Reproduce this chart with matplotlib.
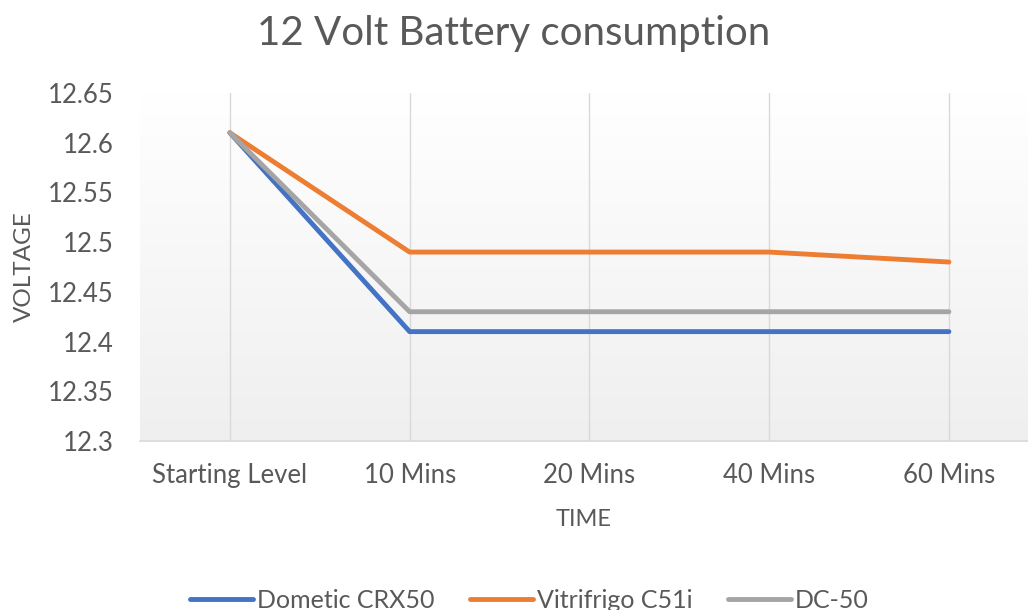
import matplotlib
matplotlib.use("Agg")
from matplotlib import pyplot as plt
from matplotlib.colors import LinearSegmentedColormap
import numpy

categories = ["Starting Level", "10 Mins", "20 Mins", "40 Mins", "60 Mins"]
dometic_crx50 = [12.61, 12.41, 12.41, 12.41, 12.41]
vitrifrigo_c51i = [12.61, 12.49, 12.49, 12.49, 12.48]
dc_50 = [12.61, 12.43, 12.43, 12.43, 12.43]
y_ticks = [12.3, 12.35, 12.4, 12.45, 12.5, 12.55, 12.6, 12.65]
y_tick_labels = ["12.3", "12.35", "12.4", "12.45", "12.5", "12.55", "12.6", "12.65"]

plt.rcParams['font.family'] = ['Lato', 'DejaVu Sans']
TEXT = "#595959"
GRID = "#d9d9d9"

fig = plt.figure(figsize=(10.28, 6.10), dpi=100)
ax = fig.add_axes([140 / 1028, 1 - 441 / 610, (1028 - 140) / 1028, (441 - 93) / 610])

x = numpy.arange(len(categories))
xlim = (-0.5, 4.44)
ylim = (12.3, 12.65)

# soft background gradient, light grey at the bottom to white at top
grad = numpy.linspace(1, 0, 256).reshape(-1, 1)
cmap = LinearSegmentedColormap.from_list("bg", ["#ffffff", "#efefef"])
ax.imshow(grad, aspect="auto", cmap=cmap, extent=(xlim[0], xlim[1], ylim[0], ylim[1]),
          origin="lower", zorder=0)

for xi in x:
    ax.axvline(xi, color=GRID, lw=1, zorder=1)

series = [
    ("Dometic CRX50", dometic_crx50, "#4472C4"),
    ("Vitrifrigo C51i", vitrifrigo_c51i, "#ED7D31"),
    ("DC-50", dc_50, "#A5A5A5"),
]
for name, vals, color in series:
    ax.plot(x, vals, color=color, lw=3.5, solid_capstyle="round",
            solid_joinstyle="round", label=name, zorder=3)

ax.set_xlim(*xlim)
ax.set_ylim(*ylim)
ax.set_xticks(x)
ax.set_xticklabels(categories)
ax.set_yticks(y_ticks)
ax.set_yticklabels(y_tick_labels)
ax.tick_params(length=0, labelsize=18.5, colors=TEXT)
ax.tick_params(axis="x", pad=16)
ax.tick_params(axis="y", pad=19)

for side in ["top", "right", "left"]:
    ax.spines[side].set_visible(False)
ax.spines["bottom"].set_color(GRID)
ax.spines["bottom"].set_linewidth(1.2)

ax.set_xlabel("TIME", fontsize=17, color=TEXT, labelpad=15)
ax.set_ylabel("VOLTAGE", fontsize=17.5, color=TEXT, labelpad=9)

fig.suptitle("12 Volt Battery consumption", fontsize=29, color=TEXT, y=0.975)

fig.legend(loc="lower center", ncol=3, frameon=False, fontsize=18,
           labelcolor=TEXT, handlelength=2.5, handletextpad=0.16,
           columnspacing=1.44, bbox_to_anchor=(0.515, -0.04))

fig.savefig("out.png", dpi=100)
